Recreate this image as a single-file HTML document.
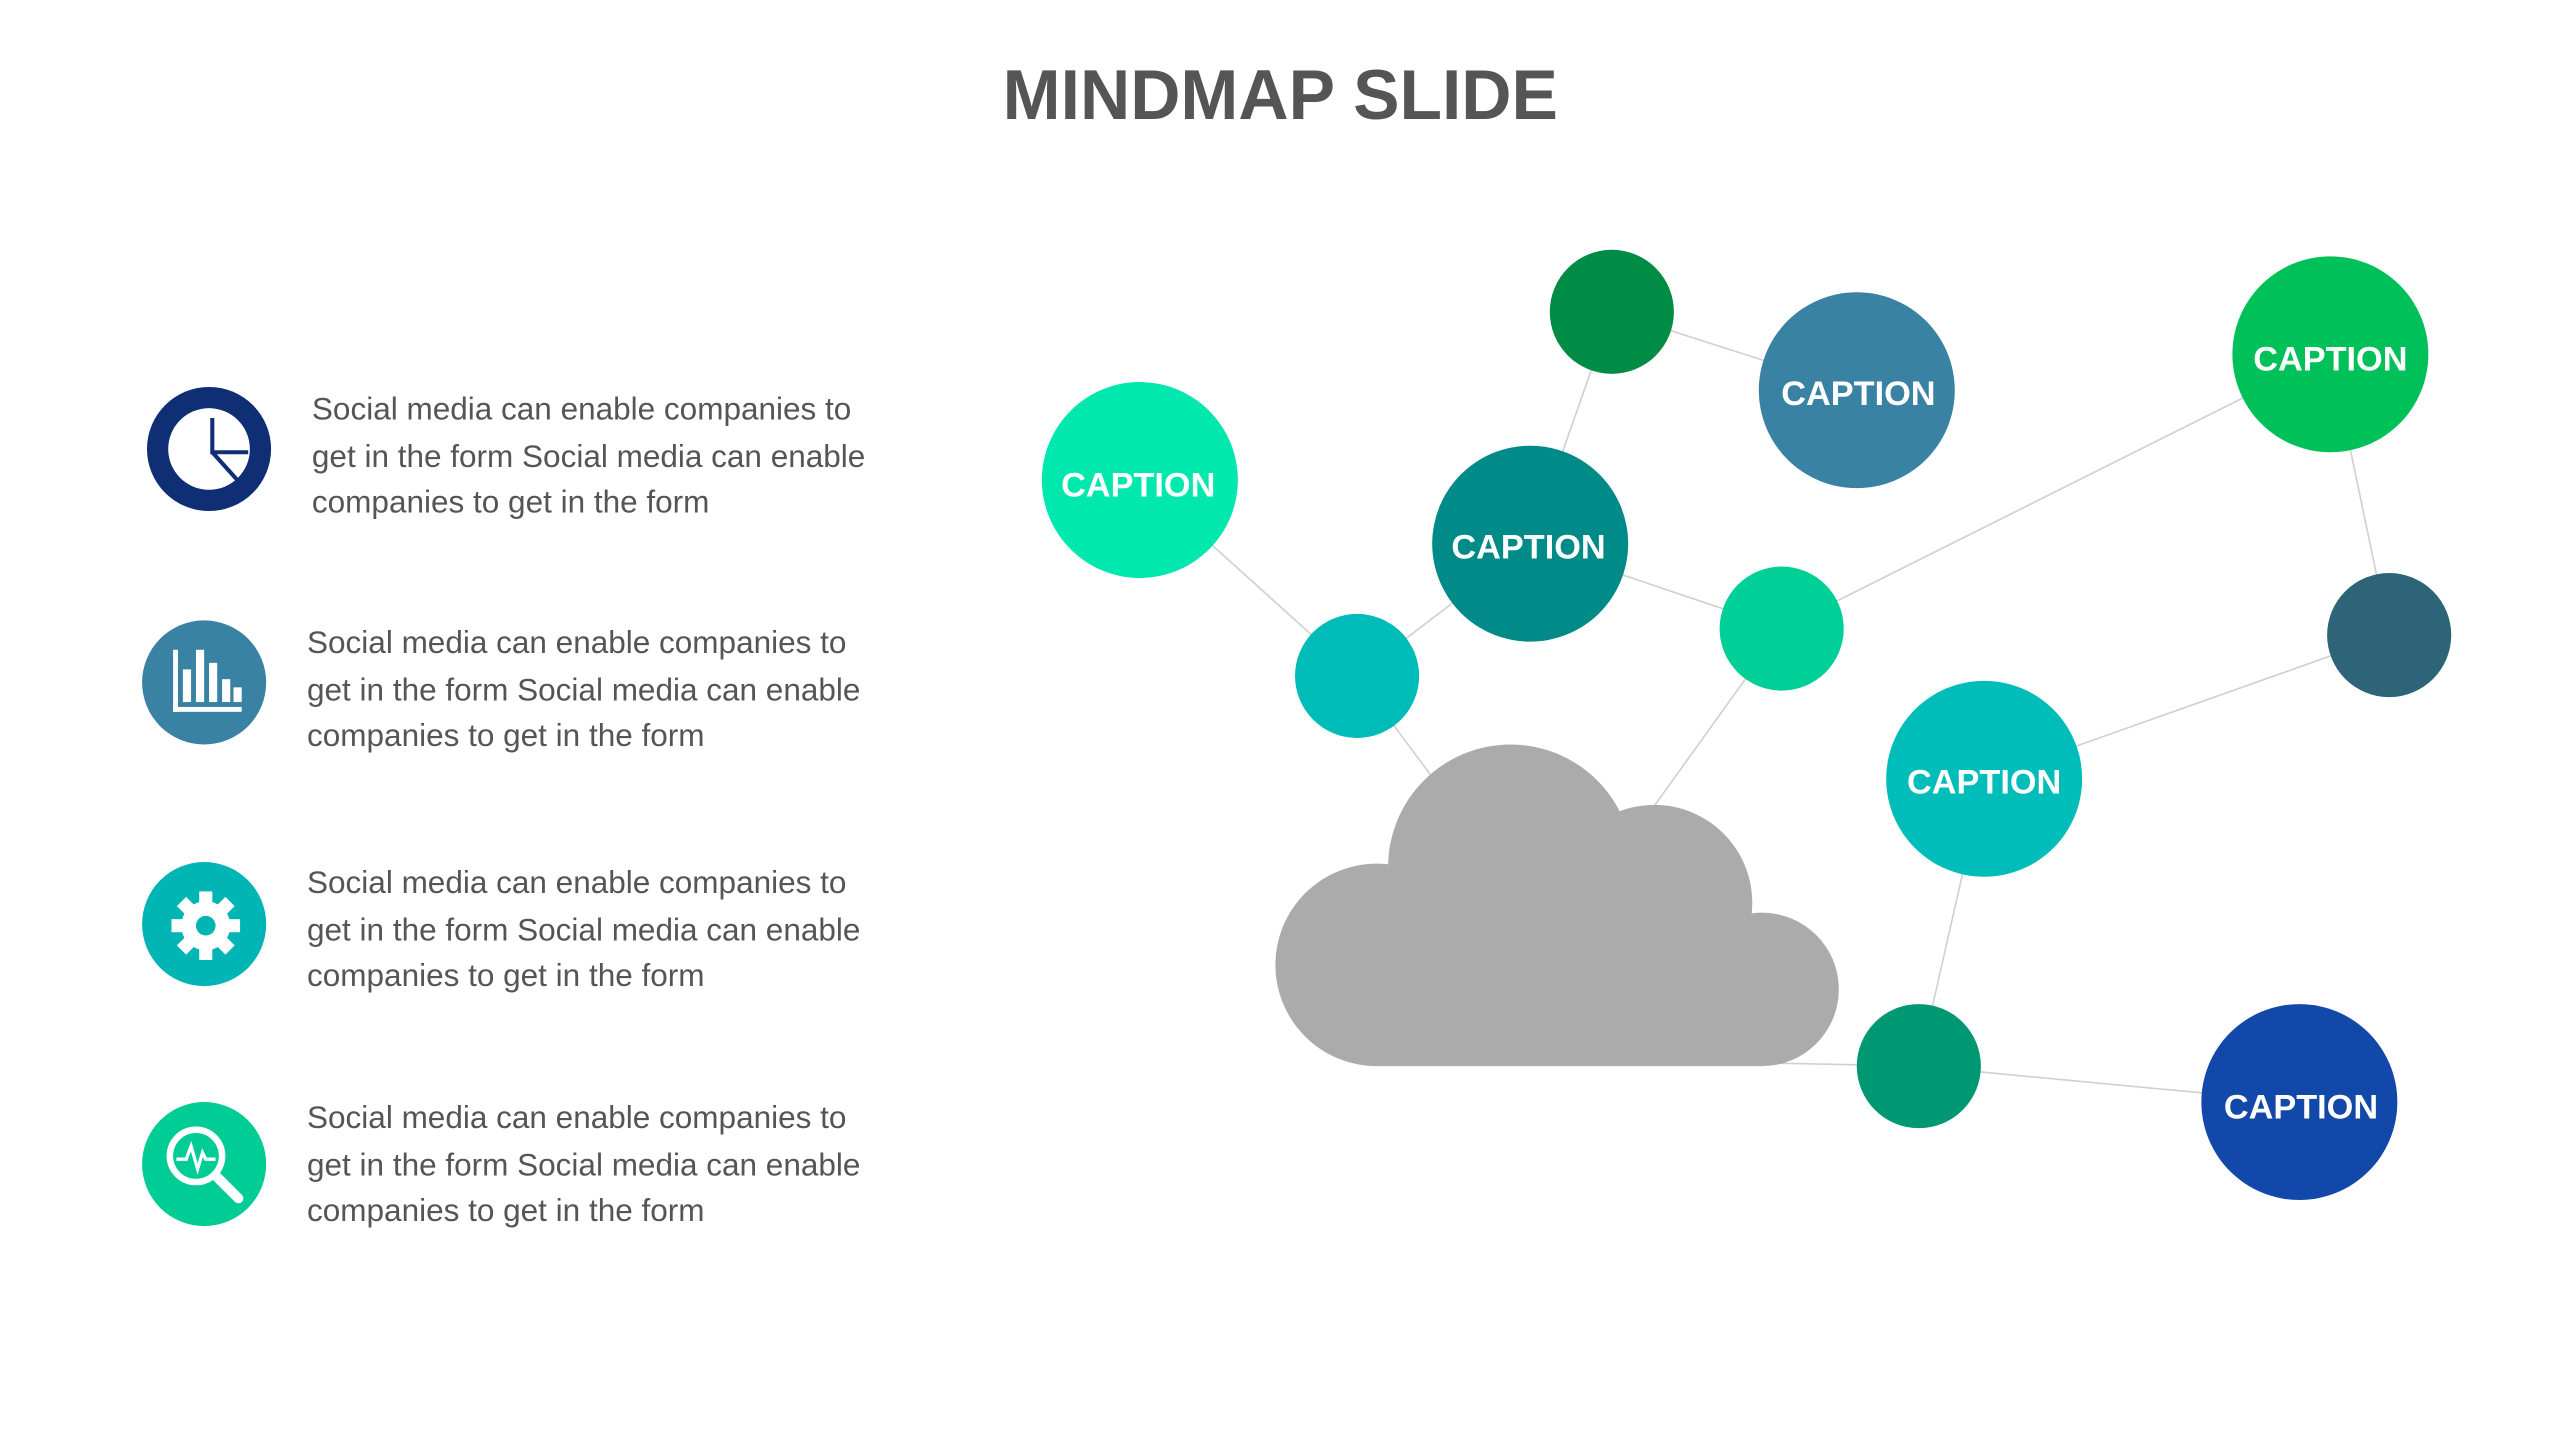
<!DOCTYPE html>
<html><head><meta charset="utf-8"><style>
html,body{margin:0;padding:0;background:#fff;}
svg{display:block;}
</style></head><body>
<svg width="2559" height="1440" viewBox="0 0 1567 882" preserveAspectRatio="none" xmlns="http://www.w3.org/2000/svg">
<rect width="1567" height="882" fill="#fff"/>
<text x="784" y="73" text-anchor="middle" font-family="Liberation Sans, sans-serif" font-weight="bold" font-size="43" fill="#555" textLength="340" lengthAdjust="spacingAndGlyphs">MINDMAP SLIDE</text>
<g stroke="#d0d0d0" stroke-width="1" fill="none">
<line x1="698" y1="294" x2="831" y2="414"/>
<line x1="831" y1="414" x2="937" y2="333"/>
<line x1="831" y1="414" x2="880" y2="480"/>
<line x1="987" y1="191" x2="937" y2="333"/>
<line x1="987" y1="191" x2="1137" y2="239"/>
<line x1="937" y1="333" x2="1091" y2="385"/>
<line x1="1091" y1="385" x2="1427" y2="217"/>
<line x1="1091" y1="385" x2="1012" y2="495"/>
<line x1="1427" y1="217" x2="1463" y2="389"/>
<line x1="1463" y1="389" x2="1215" y2="477"/>
<line x1="1215" y1="477" x2="1175" y2="653"/>
<line x1="1080" y1="651" x2="1175" y2="653"/>
<line x1="1175" y1="653" x2="1408" y2="675"/>
</g>
<g fill="#ababab">
<circle cx="925" cy="531" r="75"/>
<circle cx="1013" cy="553" r="60"/>
<circle cx="843" cy="591" r="62"/>
<circle cx="1079" cy="606" r="47"/>
<rect x="843" y="560" width="236" height="93"/>
<rect x="925" y="531" width="90" height="60"/>
</g>
<circle cx="987" cy="191" r="38" fill="#008C45"/>
<circle cx="1137" cy="239" r="60" fill="#3A82A3"/>
<circle cx="1427" cy="217" r="60" fill="#00C05A"/>
<circle cx="698" cy="294" r="60" fill="#00E8AE"/>
<circle cx="937" cy="333" r="60" fill="#008A88"/>
<circle cx="831" cy="414" r="38" fill="#00BCB8"/>
<circle cx="1091" cy="385" r="38" fill="#00CF98"/>
<circle cx="1463" cy="389" r="38" fill="#2D6478"/>
<circle cx="1215" cy="477" r="60" fill="#00BDBA"/>
<circle cx="1175" cy="653" r="38" fill="#009872"/>
<circle cx="1408" cy="675" r="60" fill="#1148AA"/>
<g font-family="Liberation Sans, sans-serif" font-weight="bold" font-size="21" fill="#fff" text-anchor="middle">
<text x="1138" y="248">CAPTION</text>
<text x="1427" y="227">CAPTION</text>
<text x="697" y="304">CAPTION</text>
<text x="936" y="342">CAPTION</text>
<text x="1215" y="486">CAPTION</text>
<text x="1409" y="685">CAPTION</text>
</g>
<circle cx="128" cy="275" r="38" fill="#0F2E74"/>
<circle cx="128" cy="275" r="25" fill="#fff"/>
<path d="M130 256 V277 H152 M130 277 L148 297" stroke="#0F2E74" stroke-width="2.5" fill="none"/>
<circle cx="125" cy="418" r="38" fill="#3A82A3"/>
<g fill="#fff"><rect x="106" y="398" width="3" height="38"/><rect x="106" y="433" width="42" height="3"/>
<rect x="112" y="410" width="5" height="20"/><rect x="120" y="398" width="5" height="32"/><rect x="128" y="406" width="5" height="24"/><rect x="136" y="416" width="5" height="14"/><rect x="143" y="421" width="5" height="9"/></g>
<circle cx="125" cy="566" r="38" fill="#00B5B3"/>
<g fill="#fff"><circle cx="126" cy="567" r="15"/>
<g transform="translate(126 567)"><rect x="-4" y="-21" width="8" height="42"/><rect x="-4" y="-21" width="8" height="42" transform="rotate(45)"/><rect x="-4" y="-21" width="8" height="42" transform="rotate(90)"/><rect x="-4" y="-21" width="8" height="42" transform="rotate(135)"/></g></g>
<circle cx="126" cy="567" r="6" fill="#00B5B3"/>
<circle cx="125" cy="713" r="38" fill="#00CC95"/>
<circle cx="120" cy="708" r="16" fill="none" stroke="#fff" stroke-width="4"/>
<line x1="132" y1="720" x2="146" y2="734" stroke="#fff" stroke-width="6" stroke-linecap="round"/>
<path d="M108 710 H114 L117 702 L121 716 L124 706 L126 710 H132" stroke="#fff" stroke-width="2" fill="none"/>
<g font-family="Liberation Sans, sans-serif" font-size="19.3" fill="#555">
<text x="191" y="257">Social media can enable companies to</text>
<text x="191" y="286">get in the form Social media can enable</text>
<text x="191" y="314">companies to get in the form</text>
<text x="188" y="400">Social media can enable companies to</text>
<text x="188" y="429">get in the form Social media can enable</text>
<text x="188" y="457">companies to get in the form</text>
<text x="188" y="547">Social media can enable companies to</text>
<text x="188" y="576">get in the form Social media can enable</text>
<text x="188" y="604">companies to get in the form</text>
<text x="188" y="691">Social media can enable companies to</text>
<text x="188" y="720">get in the form Social media can enable</text>
<text x="188" y="748">companies to get in the form</text>
</g>
</svg>
</body></html>
